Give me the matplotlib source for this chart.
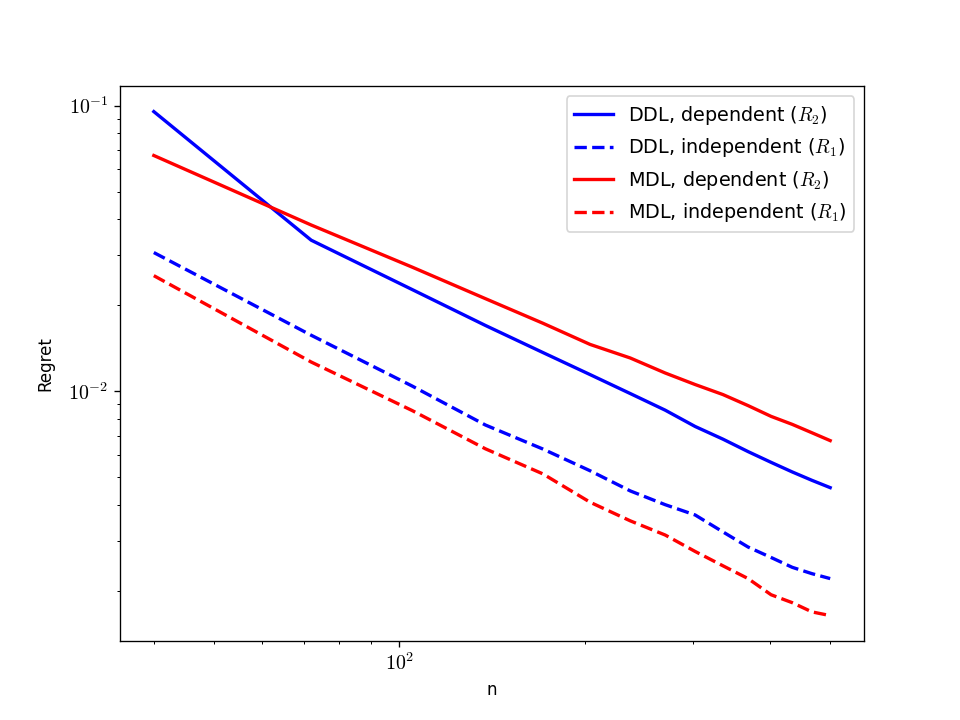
import math
import matplotlib
matplotlib.use("Agg")
import matplotlib.pyplot as plt
from matplotlib.ticker import FuncFormatter

plt.rcParams['mathtext.fontset'] = 'cm'

# sample sizes
n = [40, 72, 105, 138, 171, 204, 237, 270, 302, 335, 368, 401, 434, 467, 500]

# regret values
ddl_dep = [0.0953, 0.0338, 0.0227, 0.0170, 0.01367, 0.01144, 0.00982, 0.00859,
           0.00753, 0.00680, 0.00615, 0.00564, 0.00522, 0.00488, 0.00460]
ddl_indep = [0.0306, 0.01571, 0.01043, 0.00762, 0.00628, 0.00527, 0.00448, 0.00401,
             0.00369, 0.00322, 0.00285, 0.00262, 0.00242, 0.00230, 0.00221]
mdl_dep = [0.0669, 0.0382, 0.0272, 0.0211, 0.01731, 0.01459, 0.01308, 0.01159,
           0.01056, 0.00974, 0.00891, 0.00817, 0.00766, 0.00716, 0.00672]
mdl_indep = [0.0254, 0.01266, 0.00856, 0.00629, 0.00514, 0.00409, 0.00352, 0.00314,
             0.00275, 0.00245, 0.00221, 0.00194, 0.00182, 0.00169, 0.00164]

fig, ax = plt.subplots(figsize=(8, 6), dpi=120)

ax.plot(n, ddl_dep, color='b', linestyle='-', lw=2, label=r'DDL, dependent ($R_2$)')
ax.plot(n, ddl_indep, color='b', linestyle='--', lw=2, label=r'DDL, independent ($R_1$)')
ax.plot(n, mdl_dep, color='r', linestyle='-', lw=2, label=r'MDL, dependent ($R_2$)')
ax.plot(n, mdl_indep, color='r', linestyle='--', lw=2, label=r'MDL, independent ($R_1$)')

ax.set_xscale('log')
ax.set_yscale('log')

# exponent labels in computer modern, like the latex original
log_fmt = FuncFormatter(lambda v, pos: r'$10^{%d}$' % round(math.log10(v)))
ax.xaxis.set_major_formatter(log_fmt)
ax.yaxis.set_major_formatter(log_fmt)
ax.tick_params(axis='both', which='major', labelsize=12)

ax.set_xlabel('n')
ax.set_ylabel('Regret', labelpad=8)
ax.legend(loc='upper right', fontsize=11.5)

fig.savefig('out.png')
